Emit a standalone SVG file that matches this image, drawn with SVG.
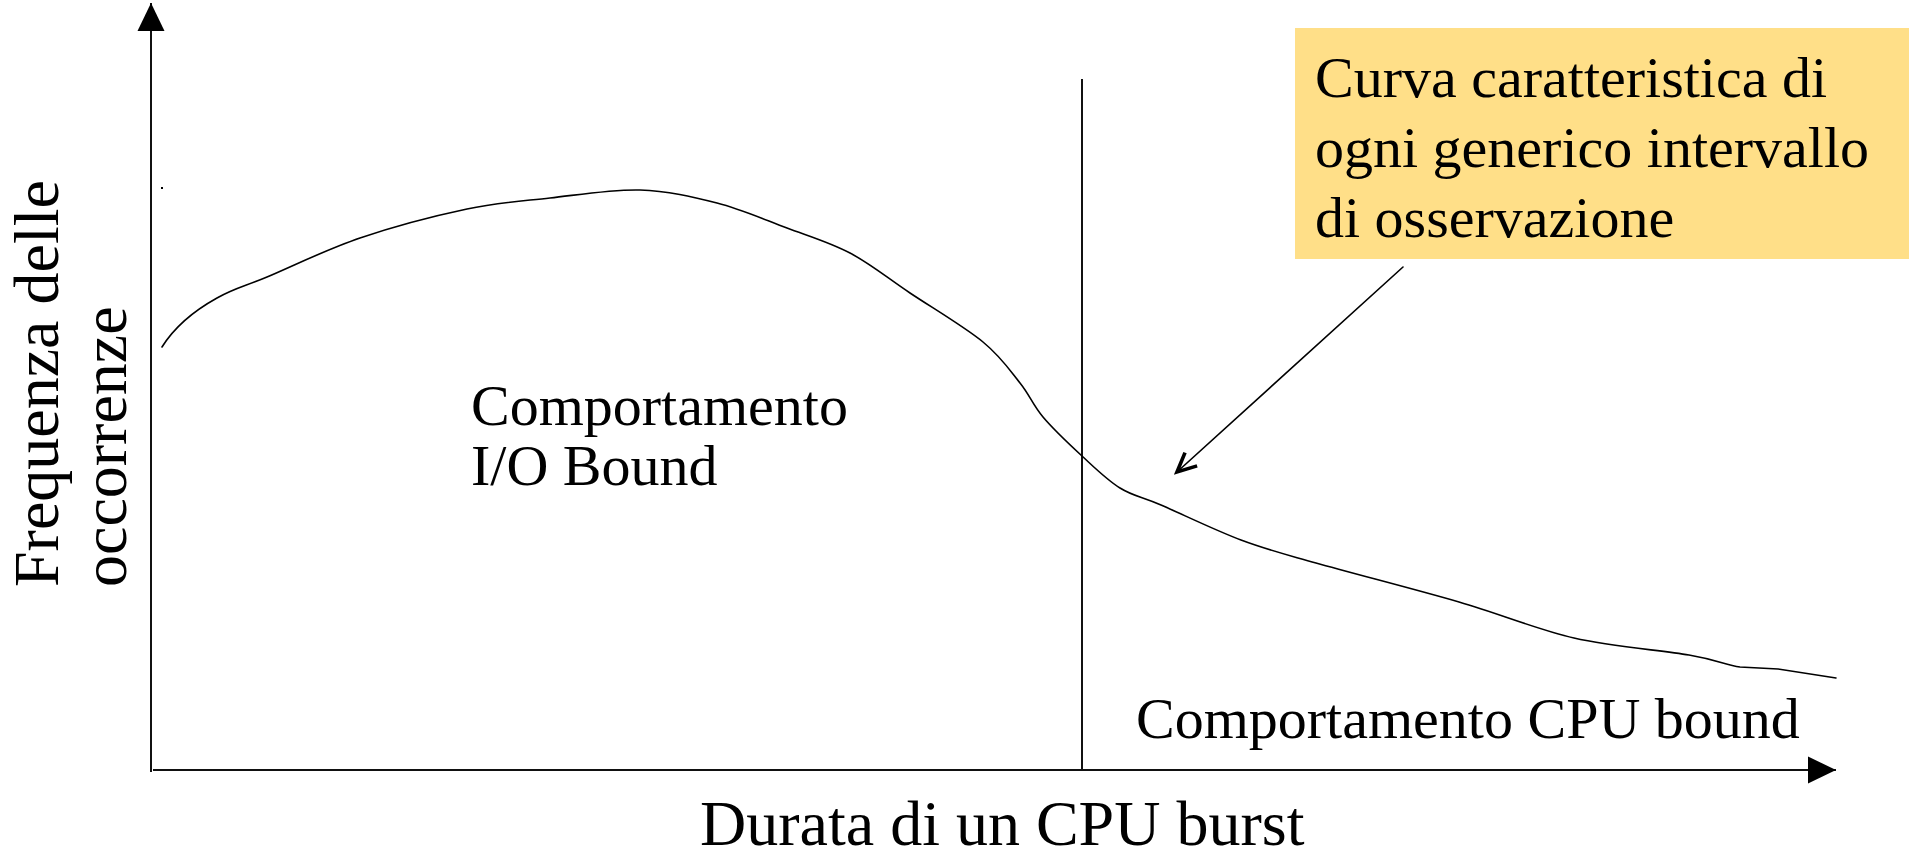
<svg xmlns="http://www.w3.org/2000/svg" width="1915" height="857" viewBox="0 0 1915 857">
<style>
.t{font-family:"Liberation Serif","Times New Roman",serif;fill:#000}
.ax{stroke:#111;stroke-width:2;fill:none}
.cv{stroke:#000;stroke-width:1.6;fill:none;stroke-linejoin:round;stroke-linecap:round}
</style>
<defs>
<marker id="solid" markerUnits="userSpaceOnUse" viewBox="0 0 28 28" refX="28" refY="14" markerWidth="28" markerHeight="28" orient="auto">
<path d="M0,0.5 L28,14 L0,27.5 Z" fill="#000"/>
</marker>
<marker id="open" markerUnits="userSpaceOnUse" viewBox="0 0 26 26" refX="22" refY="13" markerWidth="26" markerHeight="26" orient="auto">
<path d="M3,4 L22,13 L3,22" fill="none" stroke="#000" stroke-width="3.6"/>
</marker>
</defs>
<rect width="1915" height="857" fill="#fff"/>

<g id="connectors">
<line class="ax" x1="151" y1="772" x2="151" y2="3" marker-end="url(#solid)"/>
<line class="ax" x1="153" y1="770" x2="1836" y2="770" marker-end="url(#solid)"/>
<line class="ax" x1="1082" y1="79" x2="1082" y2="770"/>
<line class="cv" x1="1403" y1="267" x2="1177" y2="472" marker-end="url(#open)"/>
</g>

<g id="curve">
<path class="cv" d="M162,347 C172,331 190,313 217,298 C236,287.5 243.2,287 267,277 C290.8,267 326.7,249.3 360,238 C393.3,226.7 435.3,215.7 467,209 C498.7,202.3 521.2,201.2 550,198 C578.8,194.8 612.2,189.2 640,190 C667.8,190.8 692.5,196.7 717,203 C741.5,209.3 764.8,219.7 787,228 C809.2,236.3 829.5,242.2 850,253 C870.5,263.8 887.8,278.2 910,293 C932.2,307.8 964.7,327 983,342 C1001.3,357 1010,370.5 1020,383 C1030,395.5 1032.7,404.8 1043,417 C1053.3,429.2 1069.2,444.2 1082,456 C1094.8,467.8 1106.8,479.8 1120,488 C1133.2,496.2 1140.8,496.3 1161,505 C1181.2,513.7 1215.2,530.3 1241,540 C1266.8,549.7 1279.7,552.7 1316,563 C1352.3,573.3 1416,589.5 1459,602 C1502,614.5 1535.7,629.2 1574,638 C1612.3,646.8 1661.3,650.2 1689,655 C1716.7,659.8 1725.2,664.7 1740,667 L1778,669 L1836,678"/>
<rect x="161" y="187" width="2" height="2" fill="#000"/>
</g>

<g id="note">
<rect x="1295" y="28" width="614" height="231" fill="#ffdf88"/>
<text class="t" font-size="58" x="1315" y="97">Curva caratteristica di</text>
<text class="t" font-size="58" x="1315" y="167">ogni generico intervallo</text>
<text class="t" font-size="58" x="1315" y="237">di osservazione</text>
</g>

<g id="label-io">
<text class="t" font-size="58" x="471" y="425">Comportamento</text>
<text class="t" font-size="58" x="471" y="485">I/O Bound</text>
</g>

<g id="label-cpu">
<text class="t" font-size="58" x="1136" y="738">Comportamento CPU bound</text>
</g>

<g id="label-x">
<text class="t" font-size="64" x="700" y="845">Durata di un CPU burst</text>
</g>

<g id="label-y">
<text class="t" font-size="64" transform="translate(58,587) rotate(-90)">Frequenza delle</text>
<text class="t" font-size="64" transform="translate(126,587) rotate(-90)">occorrenze</text>
</g>
</svg>
